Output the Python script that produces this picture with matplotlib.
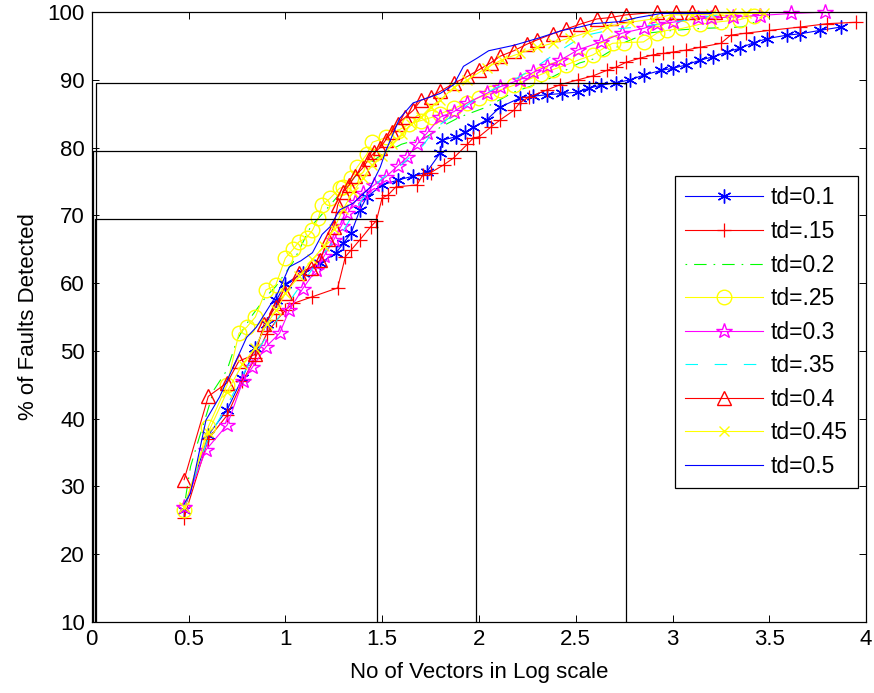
import matplotlib
matplotlib.use("Agg")
import matplotlib.pyplot as plt

plt.rcParams["font.family"] = ["Liberation Sans", "DejaVu Sans"]
plt.rcParams["lines.scale_dashes"] = False

# ---- data (x = log10 of vector count, y = % faults detected) ----
td01_x = [0.477, 0.602, 0.699, 0.778, 0.845, 0.903, 0.954, 1.0, 1.09, 1.18, 1.26, 1.30,
          1.34, 1.385, 1.42, 1.50, 1.58, 1.66, 1.73, 1.80, 1.81, 1.88, 1.93, 1.97, 2.04,
          2.11, 2.21, 2.28, 2.35, 2.43, 2.51, 2.57, 2.63, 2.71, 2.78, 2.85, 2.94, 3.0,
          3.07, 3.14, 3.21, 3.28, 3.35, 3.42, 3.49, 3.59, 3.66, 3.76, 3.87]
td01_y = [26.5, 37.6, 41.3, 46, 50.5, 54, 57.5, 59.9, 61.5, 63, 64.4, 65.9,
          67.4, 70.8, 72.7, 74.5, 75.2, 75.8, 76.4, 79.2, 81.1, 81.6, 82.3, 83, 84.1,
          86, 87.3, 87.6, 87.8, 88.0, 88.2, 88.8, 89.2, 89.6, 90, 90.7, 91.4, 91.7,
          92.2, 92.9, 93.4, 94.1, 94.7, 95.5, 96.1, 96.6, 96.8, 97.3, 97.8]

td015_x = [0.477, 0.602, 0.699, 0.778, 0.845, 0.903, 0.954, 1.0, 1.04, 1.14, 1.27, 1.31,
           1.34, 1.385, 1.44, 1.47, 1.50, 1.53, 1.57, 1.68, 1.71, 1.75, 1.82, 1.87, 1.94,
           1.97, 2.0, 2.06, 2.11, 2.18, 2.21, 2.26, 2.35, 2.42, 2.51, 2.59, 2.66, 2.71,
           2.76, 2.83, 2.90, 2.95, 3.0, 3.07, 3.14, 3.25, 3.30, 3.38, 3.50, 3.66, 3.80, 3.95]
td015_y = [25.4, 37, 40.5, 45.5, 49, 52.5, 54.5, 56, 57, 58, 59.3, 63.9,
           64.9, 66.4, 68.3, 69.2, 72.6, 73, 74.2, 74.5, 76, 76.3, 77.5, 78.5, 80.5,
           81.4, 81.6, 83, 84.1, 85.5, 86.6, 87.5, 88.5, 89.3, 90, 90.6, 91.4, 91.9,
           92.6, 93.2, 93.7, 93.9, 94.1, 94.4, 94.8, 95.4, 96.6, 96.9, 97.3, 97.8, 98.3, 98.5]

td02_x = [0.477, 0.51, 0.54, 0.602, 0.63, 0.699, 0.75, 0.778, 0.83, 0.90, 0.95, 1.0, 1.04,
          1.13, 1.2, 1.3, 1.4, 1.5, 1.6, 1.73, 1.8, 1.9, 2.04, 2.18, 2.33, 2.52, 2.63,
          2.75, 2.87, 3.0, 3.15, 3.36, 3.45]
td02_y = [27, 32.9, 35.8, 41.5, 44.2, 47.2, 51.6, 53, 55.3, 58, 59.5, 61.5, 63.1,
          68.3, 70.5, 73.8, 77, 79, 80.5, 81.6, 83, 84.5, 86, 88.2, 89.7, 92.5, 93.4,
          95.5, 96.9, 97.3, 97.6, 97.8, 98.8]

td025_x = [0.477, 0.602, 0.699, 0.76, 0.80, 0.845, 0.90, 0.95, 1.0, 1.04, 1.07, 1.11, 1.14,
           1.17, 1.19, 1.23, 1.28, 1.30, 1.34, 1.37, 1.42, 1.45, 1.52, 1.58, 1.64, 1.70,
           1.76, 1.80, 1.87, 1.94, 2.0, 2.06, 2.11, 2.18, 2.25, 2.32, 2.38, 2.45, 2.52,
           2.59, 2.64, 2.69, 2.75, 2.85, 2.92, 2.97, 3.05, 3.14, 3.25, 3.35, 3.42]
td025_y = [26.5, 38.8, 45, 52.6, 53.5, 55, 59, 59.7, 63.7, 65, 66.1, 66.7, 67.8,
           69.6, 71.5, 72.5, 74, 74.2, 75.5, 77.1, 79, 80.8, 81.5, 82.5, 83.5, 84,
           84.5, 85, 85.8, 86.6, 87.4, 88, 88.5, 89.2, 90, 90.8, 91.5, 92.2, 93.0,
           93.7, 94.6, 95.4, 95.5, 95.6, 96.9, 97.3, 97.6, 98.2, 98.6, 98.9, 99.5]

td03_x = [0.477, 0.59, 0.70, 0.78, 0.83, 0.90, 0.97, 1.02, 1.09, 1.16, 1.2, 1.25, 1.29,
          1.32, 1.36, 1.40, 1.46, 1.52, 1.58, 1.63, 1.68, 1.73, 1.80, 1.87, 1.94, 2.04,
          2.11, 2.21, 2.28, 2.35, 2.42, 2.51, 2.63, 2.74, 2.85, 2.92, 3.0, 3.13, 3.2,
          3.31, 3.45, 3.61, 3.79]
td03_y = [27, 35.4, 39.1, 45.5, 47.6, 50.6, 52.6, 56, 59.2, 62, 64, 66.4, 68.5,
          70.3, 72, 73.3, 74.5, 75.7, 77.3, 78.6, 80.5, 82.1, 84.5, 85.3, 86.6, 88,
          89, 90, 91.1, 92, 92.9, 94.4, 95.6, 96.9, 97.6, 98.2, 98.5, 99.1, 99.1,
          99.3, 99.5, 99.8, 100]

td035_x = [0.477, 0.6, 0.7, 0.8, 0.9, 1.0, 1.1, 1.2, 1.3, 1.4, 1.5, 1.6, 1.71, 1.78,
           1.9, 2.0, 2.1, 2.2, 2.3, 2.4, 2.54, 2.7, 2.82, 3.0, 3.15, 3.28, 3.45]
td035_y = [27, 37, 42, 47.5, 52, 56.5, 60.5, 64.5, 67.8, 72.5, 75.5, 77.5, 80.3, 83,
           85.5, 87.5, 89, 90.3, 92, 94, 96.5, 97.5, 97.8, 98.5, 99.2, 99.8, 100]

td04_x = [0.477, 0.602, 0.699, 0.76, 0.845, 0.89, 0.95, 1.0, 1.07, 1.13, 1.18, 1.22, 1.25,
          1.27, 1.30, 1.33, 1.36, 1.40, 1.43, 1.46, 1.49, 1.52, 1.55, 1.58, 1.62, 1.66,
          1.70, 1.75, 1.80, 1.87, 1.94, 2.0, 2.06, 2.11, 2.18, 2.25, 2.30, 2.38, 2.45,
          2.52, 2.61, 2.68, 2.76, 2.92, 3.02, 3.1, 3.22]
td04_y = [31, 43.3, 45.3, 48.5, 49.5, 54, 56.5, 58.5, 61.5, 62.3, 63.4, 66.5, 68.3,
          71.5, 73.5, 74.5, 75.8, 77, 78.3, 79.3, 80, 81.2, 82.3, 83.5, 84.5, 85.5,
          87, 87.5, 88.3, 89.5, 90.5, 91.5, 92.5, 93.5, 94.3, 95.3, 95.9, 96.8, 97.5,
          98.2, 99, 99.2, 99.6, 100, 100, 100, 100]

td045_x = [0.477, 0.602, 0.699, 0.778, 0.845, 0.903, 0.954, 1.0, 1.07, 1.14, 1.2, 1.25,
           1.3, 1.35, 1.4, 1.45, 1.5, 1.55, 1.6, 1.65, 1.7, 1.75, 1.8, 1.87, 1.94, 2.04,
           2.12, 2.21, 2.3, 2.38, 2.47, 2.56, 2.66, 2.78, 2.9, 2.99, 3.1, 3.2, 3.3, 3.38, 3.47]
td045_y = [27, 38, 44, 48, 50.5, 54, 56, 58.5, 61, 63.5, 65.5, 68,
           71, 73.5, 75.5, 77.5, 78.8, 80.5, 82, 83.5, 84.5, 86, 87, 88.9, 90, 91.8,
           93, 93.9, 94.8, 95.4, 96.2, 97, 97.8, 98.5, 99, 99.6, 99.6, 99.7, 99.8, 99.8, 99.8]

td05_x = [0.477, 0.51, 0.59, 0.66, 0.73, 0.80, 0.85, 0.96, 1.02, 1.08, 1.14, 1.19, 1.23,
          1.28, 1.35, 1.44, 1.49, 1.52, 1.56, 1.59, 1.66, 1.73, 1.80, 1.87, 1.92, 1.99,
          2.05, 2.18, 2.30, 2.43, 2.52, 2.59, 2.73, 2.82, 2.94, 3.2]
td05_y = [27.4, 29, 39.8, 43.2, 47.6, 52, 53.5, 58.5, 62.4, 63.3, 64.5, 67.2, 68.3,
          70.8, 71.8, 74.2, 77.1, 79.6, 82.3, 84.3, 86.6, 87.3, 88, 89.3, 92, 93.2,
          94.3, 95.1, 96.1, 97.3, 97.8, 98.3, 98.6, 99.2, 99.8, 99.8]

# boxes marking the 70 / 80 / 90 % levels
box_left = [0.015, 0.005, 0.02]
box_right = [1.475, 1.985, 2.76]
box_top = [69.5, 79.5, 89.5]

BLUE, RED, GREEN = (0, 0, 1), (1, 0, 0), (0, 1, 0)
YELLOW, MAGENTA, CYAN = (1, 1, 0), (1, 0, 1), (0, 1, 1)

fig = plt.figure(figsize=(8.74, 6.93), dpi=100)
ax = fig.add_axes([0.105, 0.1025, 0.886, 0.880])

ms = 10.5
series = [
    (td01_x, td01_y, dict(color=BLUE, marker=(6, 2, 0), ms=10, ls="-"), "td=0.1"),
    (td015_x, td015_y, dict(color=RED, marker="+", ms=ms, mew=0.9, ls="-"), "td=.15"),
    (td02_x, td02_y, dict(color=GREEN, ls=(0, (1.2, 5, 9, 5))), "td=0.2"),
    (td025_x, td025_y, dict(color=YELLOW, marker="o", ms=ms, mfc="none", ls="-"), "td=.25"),
    (td03_x, td03_y, dict(color=MAGENTA, marker="*", ms=ms + 1, mfc="none", ls="-"), "td=0.3"),
    (td035_x, td035_y, dict(color=CYAN, ls=(0, (9, 12))), "td=.35"),
    (td04_x, td04_y, dict(color=RED, marker="^", ms=ms, mfc="none", ls="-"), "td=0.4"),
    (td045_x, td045_y, dict(color=YELLOW, marker="x", ms=7.5, ls="-"), "td=0.45"),
    (td05_x, td05_y, dict(color=BLUE, ls="-"), "td=0.5"),
]
for xs, ys, kw, lab in series:
    ax.plot(xs, ys, lw=0.8, clip_on=False, label=lab, **kw)

for x0, x1, yt in zip(box_left, box_right, box_top):
    ax.plot([x0, x0, x1, x1], [10, yt, yt, 10], color="k", lw=0.9, zorder=5)

ax.set_xlim(0, 4)
ax.set_ylim(10, 100)
ax.set_xticks([0, 0.5, 1, 1.5, 2, 2.5, 3, 3.5, 4])
ax.set_xticklabels(["0", "0.5", "1", "1.5", "2", "2.5", "3", "3.5", "4"])
ax.set_yticks(range(10, 101, 10))
ax.tick_params(direction="in", length=5, width=0.7, top=True, right=True,
               labelsize=16, pad=5)
for sp in ax.spines.values():
    sp.set_linewidth(0.9)
ax.set_xlabel("No of Vectors in Log scale", fontsize=16, labelpad=9)
ax.set_ylabel("% of Faults Detected", fontsize=16, labelpad=6)

leg = ax.legend(loc="upper right", bbox_to_anchor=(0.99, 0.731), borderaxespad=0,
                fontsize=16.5, handlelength=3.4, handletextpad=0.35, labelspacing=0.46,
                borderpad=0.45, fancybox=False, framealpha=1, edgecolor="k")
leg.get_frame().set_linewidth(0.9)

fig.savefig("out.png", dpi=100, facecolor="white")
